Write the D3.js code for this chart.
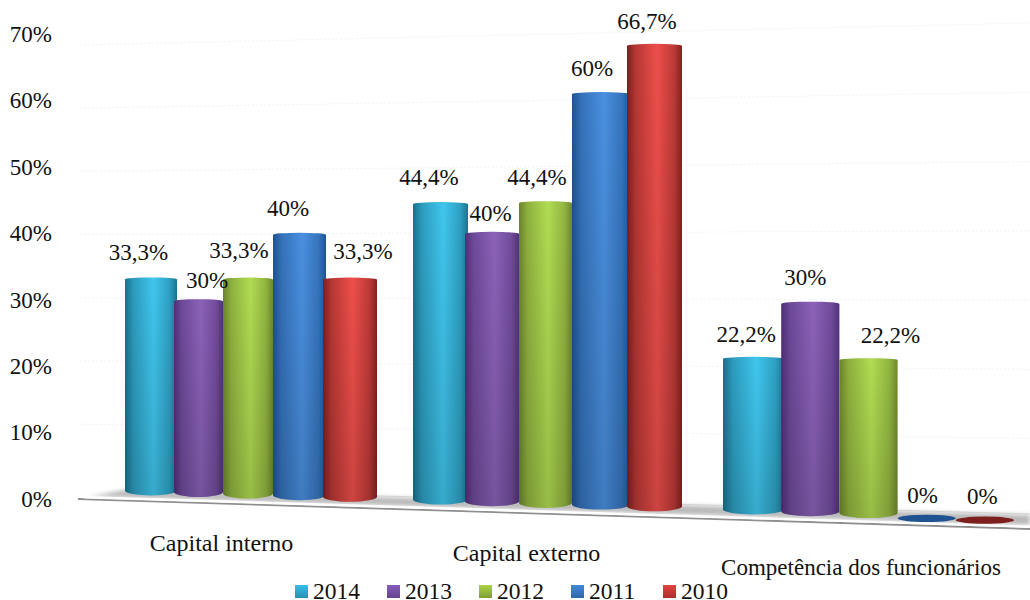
<!DOCTYPE html>
<html lang="pt">
<head>
<meta charset="utf-8">
<script src="https://cdn.jsdelivr.net/npm/d3@7/dist/d3.min.js"></script>
<style>
  html, body { margin: 0; padding: 0; background: #fff; }
  svg { display: block; }
  text { font-family: "Liberation Serif", "Times New Roman", serif; fill: #111; }
</style>
</head>
<body>
<svg id="chart" width="1030" height="600"></svg>
<script>
// Values of the chart, in percent
const categories = ["Capital interno", "Capital externo", "Competência dos funcionários"];
const years = ["2014", "2013", "2012", "2011", "2010"];
const values2014 = [33.3, 44.4, 22.2];
const values2013 = [30, 40, 30];
const values2012 = [33.3, 44.4, 22.2];
const values2011 = [40, 60, 0];
const values2010 = [33.3, 66.7, 0];
const seriesValues = [values2014, values2013, values2012, values2011, values2010];
const yTicks = [0, 10, 20, 30, 40, 50, 60, 70];

// Each colour: edge, centre and legend swatch tone per series
const palette = [
  { edge: "#17708c", mid: "#40c6ee", key: "#2fa9cf" },
  { edge: "#4f2f78", mid: "#8b62b8", key: "#7650a5" },
  { edge: "#6a842a", mid: "#b1dc52", key: "#95bb3c" },
  { edge: "#1e5290", mid: "#4a90e0", key: "#3a78c4" },
  { edge: "#7d1f1d", mid: "#ee4f4b", key: "#c93a36" }
];

const svg = d3.select("#chart");
const defs = svg.append("defs");

// The plot is seen in perspective: columns widen, grow and drop towards the right.
const groupSlots = 5, groupGap = 0.72;
const slotOf = (g, s) => g * (groupSlots + groupGap) + s;
const x = d3.scaleLinear()
  .domain([0, 1, 2, 3, 4, 5,
           slotOf(1, 0), slotOf(1, 1), slotOf(1, 2), slotOf(1, 3), slotOf(1, 4), slotOf(1, 5),
           slotOf(2, 0), slotOf(2, 5)])
  .range([125, 174, 223, 273, 323, 377,
          413, 465, 519, 572, 627, 682,
          723, 1014]);
const floorY = d3.scaleLinear().domain([150, 867]).range([490.5, 513]);
const percentPx = d3.scaleLinear().domain([150, 865]).range([6.55, 7.2]);

const formatPt = d3.formatLocale({ decimal: ",", thousands: ".", grouping: [3], currency: ["R$", ""] });
const percentLabel = v => formatPt.format(".1~f")(v) + "%";

// Horizontal shading that turns a flat rectangle into a cylinder
palette.forEach((c, i) => {
  const tone = d3.interpolateRgb(c.edge, c.mid);
  const g = defs.append("linearGradient").attr("id", `cyl${i}`);
  [[0, 0], [0.16, 0.5], [0.55, 1], [0.86, 0.55], [1, 0.05]]
    .forEach(([o, t]) => g.append("stop").attr("offset", o).attr("stop-color", tone(t)));
  const k = defs.append("linearGradient").attr("id", `key${i}`).attr("x2", 0).attr("y2", 1);
  k.append("stop").attr("offset", 0).attr("stop-color", d3.color(c.key).brighter(0.35));
  k.append("stop").attr("offset", 1).attr("stop-color", d3.color(c.key).darker(0.45));
});
const fade = defs.append("linearGradient").attr("id", "fade").attr("x2", 0).attr("y2", 1);
fade.append("stop").attr("offset", 0).attr("stop-color", "#000").attr("stop-opacity", 0);
fade.append("stop").attr("offset", 1).attr("stop-color", "#000").attr("stop-opacity", 0.14);
defs.append("filter").attr("id", "soft").attr("x", "-5%").attr("y", "-100%").attr("width", "110%").attr("height", "300%")
  .append("feGaussianBlur").attr("stdDeviation", 2);

// Faint dotted gridlines, converging slightly towards the right
const gridLeft = d3.scaleLinear().domain([0, 70]).range([491, 41]);
const gridRight = d3.scaleLinear().domain([0, 70]).range([505, 26]);
const gridAt = v => d3.scaleLinear().domain([250, 900]).range([gridLeft(v), gridRight(v)]);
svg.append("g").selectAll("path").data(yTicks.slice(1)).join("path")
  .attr("d", v => d3.line()([[80, gridAt(v)(80)], [1030, gridAt(v)(1030)]]))
  .attr("fill", "none").attr("stroke", "#f3f3f3").attr("stroke-width", 1).attr("stroke-dasharray", "2 2");

// Floor: a thin tilted slab with its grey front edge and back shadow
const frontEdge = d3.scaleLinear().domain([78, 1030]).range([499, 529]);
const backEdge = d3.scaleLinear().domain([125, 1030]).range([489, 514]);
svg.append("path")
  .attr("d", d3.line()([[78, frontEdge(78)], [125, backEdge(125)], [1030, backEdge(1030)], [1030, frontEdge(1030)]]))
  .attr("fill", "#fff");
svg.append("path")
  .attr("d", d3.line()([[90, frontEdge(90) - 3], [125, backEdge(125) + 1], [1030, backEdge(1030) + 1], [1030, frontEdge(1030) - 4], [90, frontEdge(90) - 3]]))
  .attr("fill", "#a8a8a8").attr("opacity", 0.8).attr("filter", "url(#soft)");
svg.append("path")
  .attr("d", d3.line()([[125, backEdge(125)], [1030, backEdge(1030)]]))
  .attr("stroke", "#d2d2d2").attr("stroke-width", 1).attr("fill", "none");
svg.append("path")
  .attr("d", d3.line()([[78, frontEdge(78)], [1030, frontEdge(1030)]]))
  .attr("stroke", "#8f8f8f").attr("stroke-width", 2).attr("fill", "none");
svg.append("path")
  .attr("d", d3.line()([[84, frontEdge(84) - 2], [1030, frontEdge(1030) - 2.2]]))
  .attr("stroke", "#fff").attr("stroke-width", 2.4).attr("fill", "none");

// Value axis
const yAxisScale = d3.scaleLinear().domain([0, 70]).range([499, 34]);
svg.append("g").attr("transform", "translate(56,0)")
  .call(d3.axisLeft(yAxisScale).tickValues(yTicks).tickSize(0).tickPadding(4).tickFormat(d => d + "%"))
  .call(g => g.select(".domain").remove())
  .selectAll("text").attr("font-size", 23).attr("font-family", "Liberation Serif").attr("fill", "#111");

// Cylinders, painted left to right so each one overlaps its left neighbour
const bars = [];
categories.forEach((cat, g) => {
  years.forEach((year, s) => {
    bars.push({ cat, g, s, year, value: seriesValues[s][g] });
  });
});
const barGeom = d => {
  const x0 = x(slotOf(d.g, d.s)), x1 = x(slotOf(d.g, d.s + 1));
  const cx = (x0 + x1) / 2;
  const base = floorY(cx);
  return { x0, x1, cx, base, top: base + 7 - d.value * percentPx(cx), rx: (x1 - x0) / 2 };
};
const barG = svg.append("g");
bars.forEach(d => {
  const b = barGeom(d);
  if (d.value === 0) {
    barG.append("ellipse")
      .attr("cx", b.cx).attr("cy", b.base + 3.5).attr("rx", b.rx).attr("ry", 3.6)
      .attr("fill", d3.color(palette[d.s].edge));
    return;
  }
  const right = b.x1 + (d.s % 3 === 0 ? 3 : 0);
  const rx = (right - b.x0) / 2;
  const body = `M${b.x0},${b.top}A${rx},2 0 0 1 ${right},${b.top}L${right},${b.base}A${rx},5 0 0 1 ${b.x0},${b.base}Z`;
  barG.append("path").attr("d", body).attr("fill", `url(#cyl${d.s})`);
  barG.append("path").attr("d", body).attr("fill", "url(#fade)");
});

// Value labels: placed over their column, nudged where the neighbours would collide
const labelNudge = [
  [-11, 8.5, -9, -10, 13],
  [-10, -1.5, -8.5, -7.5, -7.5],
  [-6, -5, 22, -4, -2.5]
];
const labelLift = [
  [19, 13, 21, 19, 21],
  [19, 13, 18, 18, 17],
  [17, 19, 17, 19, 20]
];
svg.append("g").selectAll("text").data(bars).join("text")
  .attr("x", d => barGeom(d).cx + labelNudge[d.g][d.s])
  .attr("y", d => barGeom(d).top - labelLift[d.g][d.s])
  .attr("text-anchor", "middle").attr("font-size", 23)
  .text(d => percentLabel(d.value));

// Category labels follow the slope of the floor
const catX = [221.5, 526.5, 861];
const catY = [550.5, 561, 575];
const catSize = [24, 24, 23];
svg.append("g").selectAll("text").data(categories).join("text")
  .attr("x", (d, i) => catX[i]).attr("y", (d, i) => catY[i])
  .attr("text-anchor", "middle").attr("font-size", (d, i) => catSize[i]).text(d => d);

// Legend
const legendX = d3.scaleLinear().domain([0, 4]).range([295, 663]);
const legend = svg.append("g").selectAll("g").data(years).join("g")
  .attr("transform", (d, i) => `translate(${legendX(i)},585)`);
legend.append("rect").attr("width", 13).attr("height", 13)
  .attr("fill", (d, i) => `url(#key${i})`);
legend.append("text").attr("x", 18).attr("y", 14).attr("font-size", 23.5).text(d => d);
</script>
</body>
</html>
